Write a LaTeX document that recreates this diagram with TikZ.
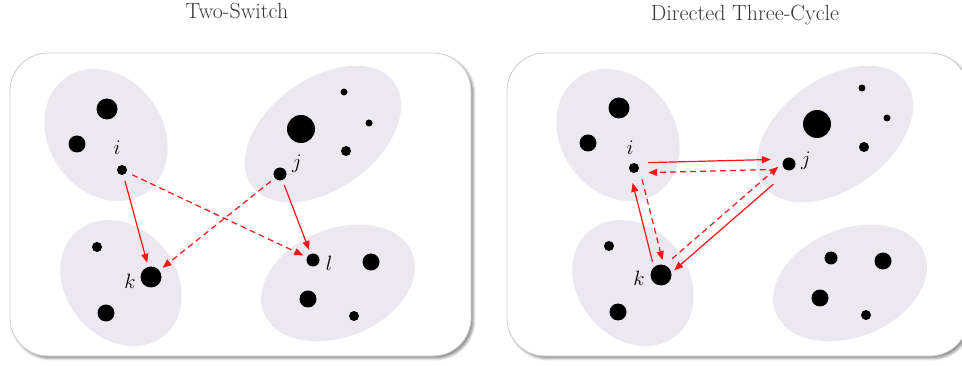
\documentclass[tikz,border=0pt]{standalone}
\usepackage{xcolor}
\usepackage{tikz}
\usetikzlibrary{arrows.meta,calc,shadows.blur}
\definecolor{blob}{HTML}{ECE8F2}
\definecolor{frame}{HTML}{CDCDCD}
\definecolor{arc}{HTML}{FF1414}
\definecolor{caption}{HTML}{383838}

\begin{document}
\begin{tikzpicture}[x=1pt, y=-1pt,
    dot/.style={circle, fill=black, inner sep=0pt, minimum size=#1},
    dot/.default=10pt,
    lbl/.style={inner sep=0pt, font=\fontsize{20}{24}\selectfont},
    heading/.style={anchor=base, text=caption, font=\fontsize{22}{26}\selectfont},
    panel/.style={draw=frame, line width=0.8pt, fill=white, rounded corners=38pt,
      blur shadow={shadow xshift=2.5pt, shadow yshift=-2.5pt, shadow blur radius=2.5pt, shadow opacity=45}},
    arcsolid/.style={draw=arc, line width=1.2pt, -{Triangle[length=9pt, width=7pt]}},
    arcdash/.style={arcsolid, dash pattern=on 6pt off 4pt}]
  \useasboundingbox (0,0) rectangle (962,366);
  \clip (0,0) rectangle (962,366);

  \node[heading] (ttitle) at (237,19) {Two-Switch};
  \node[heading] (ctitle) at (745,21) {Directed Three-Cycle};

  \path[panel] (10,53) rectangle (471,356);
  \path[panel] (507,53) rectangle (968,356);

  \foreach \dx in {0,512} {
    \fill[blob, rotate around={-55:(106+\dx,135)}] (106+\dx,135) ellipse [x radius=70pt, y radius=57pt];
    \fill[blob, rotate around={36:(323+\dx,134)}] (323+\dx,134) ellipse [x radius=88pt, y radius=55pt];
    \fill[blob, rotate around={-50:(121+\dx,283)}] (121+\dx,283) ellipse [x radius=68pt, y radius=55pt];
    \fill[blob, rotate around={22:(338+\dx,283)}] (338+\dx,283) ellipse [x radius=80pt, y radius=54pt];
  }

  \foreach \x/\y/\s [count=\n] in {107/109/21pt, 77/144/17pt, 301/129/28pt, 344/92/7pt,
      369/123/7pt, 346/151/10pt, 97/247/10pt, 106/313/17pt, 371/262/17pt,
      308/299/17pt, 354/316/10pt}
    \node[dot=\s] (t\n) at (\x,\y) {};
  \node[dot=10pt] (ti) at (122,170) {};
  \node[dot=13pt] (tj) at (280,174) {};
  \node[dot=21pt] (tk) at (151,277) {};
  \node[dot=13pt] (tl) at (313,260) {};
  \node[lbl] (tilbl) at (117,148) {$i$};
  \node[lbl] (tjlbl) at (297,164) {$j$};
  \node[lbl] (tklbl) at (130,281) {$k$};
  \node[lbl] (tllbl) at (329,263) {$l$};

  \foreach \x/\y/\s [count=\n] in {619/108/21pt, 588/143/17pt, 817/124/28pt, 862/88/7pt,
      887/118/7pt, 864/147/10pt, 609/246/10pt, 618/312/17pt, 831/258/13pt,
      883/261/17pt, 820/298/17pt, 866/315/10pt}
    \node[dot=\s] (c\n) at (\x,\y) {};
  \node[dot=10pt] (ci) at (634,168) {};
  \node[dot=13pt] (cj) at (789,164) {};
  \node[dot=21pt] (ck) at (661,275) {};
  \node[lbl] (cilbl) at (630,148) {$i$};
  \node[lbl] (cjlbl) at (806,161) {$j$};
  \node[lbl] (cklbl) at (639,278) {$k$};

  \draw[arcsolid, shorten <=6pt, shorten >=4pt] (ti) -- (tk);
  \draw[arcdash, shorten <=6pt, shorten >=4pt] (ti) -- (tl);
  \draw[arcsolid, shorten <=5pt, shorten >=4pt] (tj) -- (tl);
  \draw[arcdash, shorten <=5pt, shorten >=4pt] (tj) -- (tk);

  \draw[arcsolid, shorten <=14pt, shorten >=18pt] ($(ci)!5pt!90:(cj)$) -- ($(cj)!5pt!-90:(ci)$);
  \draw[arcdash, shorten <=23pt, shorten >=14pt] ($(cj)!5pt!90:(ci)$) -- ($(ci)!5pt!-90:(cj)$);
  \draw[arcsolid, shorten <=15pt, shorten >=14pt] ($(ck)!5pt!90:(ci)$) -- ($(ci)!5pt!-90:(ck)$);
  \draw[arcdash, shorten <=13pt, shorten >=14pt] ($(ci)!5pt!90:(ck)$) -- ($(ck)!5pt!-90:(ci)$);
  \draw[arcdash, shorten <=19pt, shorten >=10pt] ($(ck)!5pt!90:(cj)$) -- ($(cj)!5pt!-90:(ck)$);
  \draw[arcsolid, shorten <=25pt, shorten >=13pt] ($(cj)!5pt!90:(ck)$) -- ($(ck)!5pt!-90:(cj)$);
\end{tikzpicture}
\end{document}
